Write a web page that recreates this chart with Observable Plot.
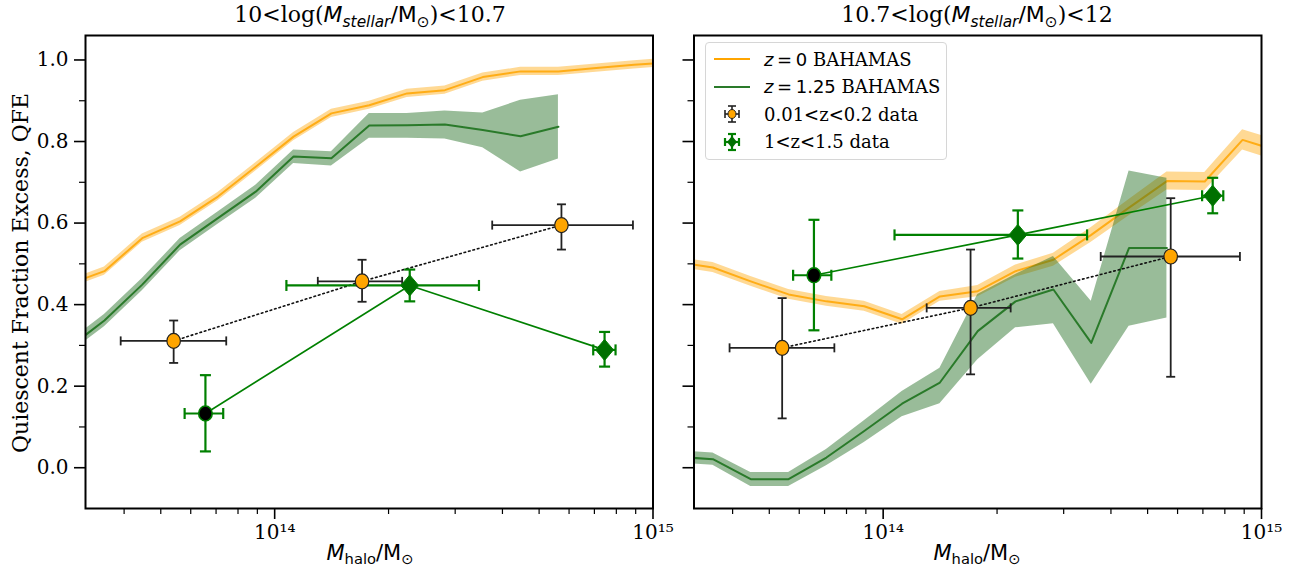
<!DOCTYPE html>
<html>
<head>
<meta charset="utf-8">
<script src="https://cdn.jsdelivr.net/npm/d3@7"></script>
<script src="https://cdn.jsdelivr.net/npm/@observablehq/plot@0.6"></script>
<style>
  html, body { margin: 0; padding: 0; background: #fff; }
  #wrap { position: relative; width: 1295px; height: 575px; overflow: hidden; background: #fff; }
  .panel { position: absolute; top: 0; }
  .title, .xlabel { position: absolute; font-family: 'DejaVu Serif', serif; font-size: 22px; color: #000; white-space: nowrap; transform: translateX(-50%); }
  .xlabel { font-size: 21px; }
  .m { font-family: 'DejaVu Sans', sans-serif; }
  .mi { font-family: 'DejaVu Sans', sans-serif; font-style: italic; }
  sub { font-size: 70%; vertical-align: -0.3em; line-height: 0; }
  .ylabel { position: absolute; font-family: 'DejaVu Serif', serif; font-size: 22px; white-space: nowrap; transform: translate(-50%, -50%) rotate(-90deg); }
  .legend { position: absolute; left: 705px; top: 42px; width: 242px; height: 118px; box-sizing: border-box; border: 1px solid #d6d6d6; border-radius: 4px; background: rgba(255,255,255,0.8); font-family: 'DejaVu Serif', serif; font-size: 18px; }
  .legend .row { position: absolute; left: 0; height: 26px; display: flex; align-items: center; }
  .legend svg { margin-left: 6px; margin-right: 12px; }
</style>
</head>
<body>
<div id="wrap"></div>
<script>
// ---------------- data ----------------
// simulation bin centres, log10(M_halo / M_sun)
const simLogM = [13.45, 13.55, 13.65, 13.75, 13.85, 13.95, 14.05, 14.15, 14.25, 14.35, 14.45, 14.55, 14.65, 14.75, 14.85, 14.95, 15.05];

// Panel 1: 10 < log(Mstellar) < 10.7
const p1_z0_qfe = [0.448, 0.482, 0.563, 0.604, 0.665, 0.738, 0.812, 0.869, 0.889, 0.918, 0.926, 0.958, 0.972, 0.972, 0.980, 0.988, 0.995];
const p1_z0_err = [0.010, 0.010, 0.010, 0.010, 0.010, 0.010, 0.010, 0.010, 0.010, 0.010, 0.010, 0.010, 0.010, 0.010, 0.010, 0.010, 0.010];
const p1_z125_qfe = [0.290, 0.361, 0.449, 0.547, 0.612, 0.677, 0.763, 0.759, 0.839, 0.840, 0.842, 0.828, 0.813, 0.836];
const p1_z125_lo  = [0.275, 0.346, 0.434, 0.532, 0.597, 0.661, 0.746, 0.740, 0.808, 0.808, 0.806, 0.785, 0.725, 0.757];
const p1_z125_hi  = [0.305, 0.376, 0.464, 0.562, 0.627, 0.693, 0.779, 0.775, 0.869, 0.869, 0.875, 0.870, 0.901, 0.915];

const p1_low_logM = [13.733, 14.231, 14.758];
const p1_low_xlo  = [13.593, 14.114, 14.575];
const p1_low_xhi  = [13.872, 14.337, 14.947];
const p1_low_qfe  = [0.311, 0.457, 0.595];
const p1_low_ylo  = [0.257, 0.407, 0.535];
const p1_low_yhi  = [0.361, 0.510, 0.646];

const p1_high_logM = [13.817, 14.357, 14.872];
const p1_high_xlo  = [13.762, 14.031, 14.842];
const p1_high_xhi  = [13.864, 14.540, 14.901];
const p1_high_qfe  = [0.133, 0.447, 0.289];
const p1_high_ylo  = [0.040, 0.408, 0.248];
const p1_high_yhi  = [0.227, 0.486, 0.333];

// Panel 2: 10.7 < log(Mstellar) < 12
const p2_z0_qfe = [0.505, 0.491, 0.457, 0.425, 0.408, 0.396, 0.364, 0.420, 0.433, 0.482, 0.510, 0.571, 0.638, 0.703, 0.702, 0.804, 0.775];
const p2_z0_err = [0.012, 0.012, 0.012, 0.012, 0.012, 0.012, 0.012, 0.012, 0.014, 0.015, 0.016, 0.018, 0.020, 0.022, 0.022, 0.025, 0.025];
const p2_z125_qfe = [0.027, 0.021, -0.028, -0.028, 0.025, 0.090, 0.157, 0.209, 0.335, 0.408, 0.437, 0.306, 0.539, 0.539];
const p2_z125_lo  = [0.012, 0.006, -0.046, -0.046, 0.005, 0.062, 0.125, 0.157, 0.265, 0.343, 0.353, 0.205, 0.347, 0.367];
const p2_z125_hi  = [0.042, 0.036, -0.012, -0.012, 0.045, 0.115, 0.187, 0.244, 0.425, 0.474, 0.518, 0.408, 0.728, 0.710];

const p2_low_logM = [13.733, 14.231, 14.760];
const p2_low_xlo  = [13.594, 14.115, 14.575];
const p2_low_xhi  = [13.871, 14.337, 14.943];
const p2_low_qfe  = [0.294, 0.392, 0.518];
const p2_low_ylo  = [0.121, 0.229, 0.223];
const p2_low_yhi  = [0.416, 0.535, 0.661];

const p2_high_logM = [13.817, 14.356, 14.871];
const p2_high_xlo  = [13.762, 14.030, 14.843];
const p2_high_xhi  = [13.863, 14.539, 14.899];
const p2_high_qfe  = [0.472, 0.571, 0.667];
const p2_high_ylo  = [0.337, 0.513, 0.624];
const p2_high_yhi  = [0.608, 0.631, 0.711];

// first high-z point drawn as black circle, others as diamonds
const highMarker = ["circle", "diamond", "diamond"];

// axis ticks
const xMajor = [1e14, 1e15];
const xMinor = [4e13, 5e13, 6e13, 7e13, 8e13, 9e13, 2e14, 3e14, 4e14, 5e14, 6e14, 7e14, 8e14, 9e14];
const yMajor = [0.0, 0.2, 0.4, 0.6, 0.8, 1.0];
const yMinor = [0.1, 0.3, 0.5, 0.7, 0.9];

const panelTitles = [
  '10&lt;log(<span class="mi">M</span><sub class="mi">stellar</sub><span class="m">/M</span><sub class="m">⊙</sub>)&lt;10.7',
  '10.7&lt;log(<span class="mi">M</span><sub class="mi">stellar</sub><span class="m">/M</span><sub class="m">⊙</sub>)&lt;12'
];
const legendLabels = ["z = 0 BAHAMAS", "z = 1.25 BAHAMAS", "0.01<z<0.2 data", "1<z<1.5 data"];

// ---------------- helpers ----------------
const ORANGE = "#FFA500";
const GREEN = "#008000";
const DKGREEN = "#2a7a2a";
const BANDGREEN = "#1d6b1d";

const sup = {"0":"⁰","1":"¹","2":"²","3":"³","4":"⁴","5":"⁵","6":"⁶","7":"⁷","8":"⁸","9":"⁹"};
const fmtPow = d => "10" + String(Math.round(Math.log10(d))).split("").map(c => sup[c]).join("");

const hcap = {draw(ctx, size) { const r = Math.sqrt(size / Math.PI); ctx.moveTo(-r, 0); ctx.lineTo(r, 0); }};
const vcap = {draw(ctx, size) { const r = Math.sqrt(size / Math.PI); ctx.moveTo(0, -r); ctx.lineTo(0, r); }};
const diamond = {draw(ctx, size) { const r = Math.sqrt(size / Math.PI); ctx.moveTo(0, -r); ctx.lineTo(0.85 * r, 0); ctx.lineTo(0, r); ctx.lineTo(-0.85 * r, 0); ctx.closePath(); }};
const ellipse = {draw(ctx, size) {
  const r = Math.sqrt(size / Math.PI), ry = r, rx = 0.9 * r, k = 0.5523;
  ctx.moveTo(rx, 0);
  ctx.bezierCurveTo(rx, k * ry, k * rx, ry, 0, ry);
  ctx.bezierCurveTo(-k * rx, ry, -rx, k * ry, -rx, 0);
  ctx.bezierCurveTo(-rx, -k * ry, -k * rx, -ry, 0, -ry);
  ctx.bezierCurveTo(k * rx, -ry, rx, -k * ry, rx, 0);
  ctx.closePath();
}};

function simTable(logM, q, lo, hi) {
  return q.map((v, i) => ({m: 10 ** logM[i], q: v, lo: lo[i], hi: hi[i]}));
}
function obsTable(logM, xlo, xhi, q, ylo, yhi, marker) {
  return q.map((v, i) => ({m: 10 ** logM[i], xlo: 10 ** xlo[i], xhi: 10 ** xhi[i], q: v, ylo: ylo[i], yhi: yhi[i], marker: marker ? marker[i] : "circle"}));
}

function panel(cfg) {
  const z0 = simTable(simLogM, cfg.z0q, cfg.z0q.map((v, i) => v - cfg.z0e[i]), cfg.z0q.map((v, i) => v + cfg.z0e[i]));
  const z1 = simTable(simLogM, cfg.z1q, cfg.z1lo, cfg.z1hi);
  const low = obsTable(cfg.low[0], cfg.low[1], cfg.low[2], cfg.low[3], cfg.low[4], cfg.low[5]);
  const high = obsTable(cfg.high[0], cfg.high[1], cfg.high[2], cfg.high[3], cfg.high[4], cfg.high[5], highMarker);
  const lab = cfg.labels;
  return Plot.plot({
    width: cfg.width, height: 575,
    marginLeft: cfg.ml, marginRight: cfg.mr, marginTop: 35, marginBottom: 67,
    style: {fontFamily: "'DejaVu Serif', serif", fontSize: "20px", color: "#000", background: "transparent", overflow: "visible"},
    x: {type: "log", domain: [10 ** 13.5, 1e15]},
    y: {domain: [-0.1, 1.06]},
    marks: [
      Plot.areaY(z0, {x: "m", y1: "lo", y2: "hi", fill: ORANGE, fillOpacity: 0.42, clip: true}),
      Plot.line(z0, {x: "m", y: "q", stroke: ORANGE, strokeOpacity: 0.85, strokeWidth: 2, clip: true}),
      Plot.areaY(z1, {x: "m", y1: "lo", y2: "hi", fill: BANDGREEN, fillOpacity: 0.45, clip: true}),
      Plot.line(z1, {x: "m", y: "q", stroke: DKGREEN, strokeWidth: 2, clip: true}),
      // connecting lines
      Plot.line(low, {x: "m", y: "q", stroke: "#111", strokeWidth: 1.6, strokeDasharray: "1.6,3"}),
      Plot.line(high, {x: "m", y: "q", stroke: GREEN, strokeWidth: 1.6}),
      // low-z error bars
      Plot.link(low, {x1: "xlo", x2: "xhi", y1: "q", y2: "q", stroke: "#222", strokeWidth: 1.8}),
      Plot.link(low, {x1: "m", x2: "m", y1: "ylo", y2: "yhi", stroke: "#222", strokeWidth: 1.8}),
      Plot.dot(low, {x: "m", y: "ylo", symbol: hcap, r: 4.5, fill: "none", stroke: "#222", strokeWidth: 1.8}),
      Plot.dot(low, {x: "m", y: "yhi", symbol: hcap, r: 4.5, fill: "none", stroke: "#222", strokeWidth: 1.8}),
      Plot.dot(low, {x: "xlo", y: "q", symbol: vcap, r: 4.5, fill: "none", stroke: "#222", strokeWidth: 1.8}),
      Plot.dot(low, {x: "xhi", y: "q", symbol: vcap, r: 4.5, fill: "none", stroke: "#222", strokeWidth: 1.8}),
      // high-z error bars
      Plot.link(high, {x1: "xlo", x2: "xhi", y1: "q", y2: "q", stroke: GREEN, strokeWidth: 2.2}),
      Plot.link(high, {x1: "m", x2: "m", y1: "ylo", y2: "yhi", stroke: GREEN, strokeWidth: 2.2}),
      Plot.dot(high, {x: "m", y: "ylo", symbol: hcap, r: 5.5, fill: "none", stroke: GREEN, strokeWidth: 2.2}),
      Plot.dot(high, {x: "m", y: "yhi", symbol: hcap, r: 5.5, fill: "none", stroke: GREEN, strokeWidth: 2.2}),
      Plot.dot(high, {x: "xlo", y: "q", symbol: vcap, r: 5.5, fill: "none", stroke: GREEN, strokeWidth: 2.2}),
      Plot.dot(high, {x: "xhi", y: "q", symbol: vcap, r: 5.5, fill: "none", stroke: GREEN, strokeWidth: 2.2}),
      // markers
      Plot.dot(low, {x: "m", y: "q", symbol: ellipse, r: 7.5, fill: ORANGE, stroke: "#222", strokeWidth: 1.2}),
      Plot.dot(high.filter(d => d.marker === "circle"), {x: "m", y: "q", symbol: ellipse, r: 7.5, fill: "#000", stroke: GREEN, strokeWidth: 1.6}),
      Plot.dot(high.filter(d => d.marker === "diamond"), {x: "m", y: "q", symbol: diamond, r: 10.5, fill: "#007000", stroke: GREEN, strokeWidth: 1}),
      // axes
      Plot.axisX({ticks: xMajor, tickSize: 11, tickPadding: 5, tickFormat: fmtPow, label: null, strokeWidth: 1.6, stroke: "#000", fontSize: 20}),
      Plot.axisX({ticks: xMinor, tickSize: 6, tickFormat: () => "", label: null, strokeWidth: 1.2, stroke: "#000"}),
      Plot.axisY({ticks: yMajor, tickSize: 11, tickPadding: 6, tickFormat: lab ? d3.format(".1f") : () => "", label: null, strokeWidth: 1.6, stroke: "#000", fontSize: 20}),
      Plot.axisY({ticks: yMinor, tickSize: 6, tickFormat: () => "", label: null, strokeWidth: 1.2, stroke: "#000"}),
      Plot.frame({stroke: "#000", strokeWidth: 2})
    ]
  });
}

const wrap = document.getElementById("wrap");

const svg1 = panel({width: 660, ml: 85, mr: 7.5, labels: true,
  z0q: p1_z0_qfe, z0e: p1_z0_err, z1q: p1_z125_qfe, z1lo: p1_z125_lo, z1hi: p1_z125_hi,
  low: [p1_low_logM, p1_low_xlo, p1_low_xhi, p1_low_qfe, p1_low_ylo, p1_low_yhi],
  high: [p1_high_logM, p1_high_xlo, p1_high_xhi, p1_high_qfe, p1_high_ylo, p1_high_yhi]});
svg1.classList.add("panel"); svg1.style.left = "0px";
wrap.appendChild(svg1);

const svg2 = panel({width: 635, ml: 33.5, mr: 34, labels: false,
  z0q: p2_z0_qfe, z0e: p2_z0_err, z1q: p2_z125_qfe, z1lo: p2_z125_lo, z1hi: p2_z125_hi,
  low: [p2_low_logM, p2_low_xlo, p2_low_xhi, p2_low_qfe, p2_low_ylo, p2_low_yhi],
  high: [p2_high_logM, p2_high_xlo, p2_high_xhi, p2_high_qfe, p2_high_ylo, p2_high_yhi]});
svg2.classList.add("panel"); svg2.style.left = "660px";
wrap.appendChild(svg2);

// titles and x labels
[370, 977].forEach((cx, i) => {
  const t = document.createElement("div");
  t.className = "title"; t.style.left = cx + "px"; t.style.top = "2px";
  t.innerHTML = panelTitles[i];
  wrap.appendChild(t);
  const xl = document.createElement("div");
  xl.className = "xlabel"; xl.style.left = cx + "px"; xl.style.top = "541px";
  xl.innerHTML = '<span class="mi">M</span><sub class="m">halo</sub><span class="m">/M</span><sub class="m">⊙</sub>';
  wrap.appendChild(xl);
});
const yl = document.createElement("div");
yl.className = "ylabel"; yl.style.left = "20px"; yl.style.top = "273px";
yl.textContent = "Quiescent Fraction Excess, QFE";
wrap.appendChild(yl);

// legend
const lg = document.createElement("div");
lg.className = "legend";
const icons = [
  `<svg width="40" height="20"><line x1="2" x2="38" y1="10" y2="10" stroke="${ORANGE}" stroke-width="2"/></svg>`,
  `<svg width="40" height="20"><line x1="2" x2="38" y1="10" y2="10" stroke="${DKGREEN}" stroke-width="2"/></svg>`,
  `<svg width="40" height="22"><g stroke="#222" stroke-width="1.6"><line x1="13" x2="27" y1="11" y2="11"/><line x1="20" x2="20" y1="3" y2="19"/><line x1="16" x2="24" y1="3" y2="3"/><line x1="16" x2="24" y1="19" y2="19"/><line x1="13" x2="13" y1="7" y2="15"/><line x1="27" x2="27" y1="7" y2="15"/></g><ellipse cx="20" cy="11" rx="4" ry="4.5" fill="${ORANGE}" stroke="#222" stroke-width="1"/></svg>`,
  `<svg width="40" height="22"><g stroke="${GREEN}" stroke-width="2.2"><line x1="13" x2="27" y1="11" y2="11"/><line x1="20" x2="20" y1="3" y2="19"/><line x1="16" x2="24" y1="3" y2="3"/><line x1="16" x2="24" y1="19" y2="19"/><line x1="13" x2="13" y1="7" y2="15"/><line x1="27" x2="27" y1="7" y2="15"/></g><path d="M20,5 L25,11 L20,17 L15,11Z" fill="#007000"/></svg>`
];
const labelsHtml = [
  '<span class="mi">z</span><span class="m">&thinsp;=&thinsp;0</span>&nbsp;BAHAMAS',
  '<span class="mi">z</span><span class="m">&thinsp;=&thinsp;1.25</span>&nbsp;BAHAMAS',
  '0.01&lt;z&lt;0.2 data',
  '1&lt;z&lt;1.5 data'
];
labelsHtml.forEach((h, i) => {
  const r = document.createElement("div");
  r.className = "row"; r.style.top = (3 + i * 27.5) + "px";
  r.innerHTML = icons[i] + `<span title="${legendLabels[i]}">${h}</span>`;
  lg.appendChild(r);
});
wrap.appendChild(lg);
</script>
</body>
</html>
